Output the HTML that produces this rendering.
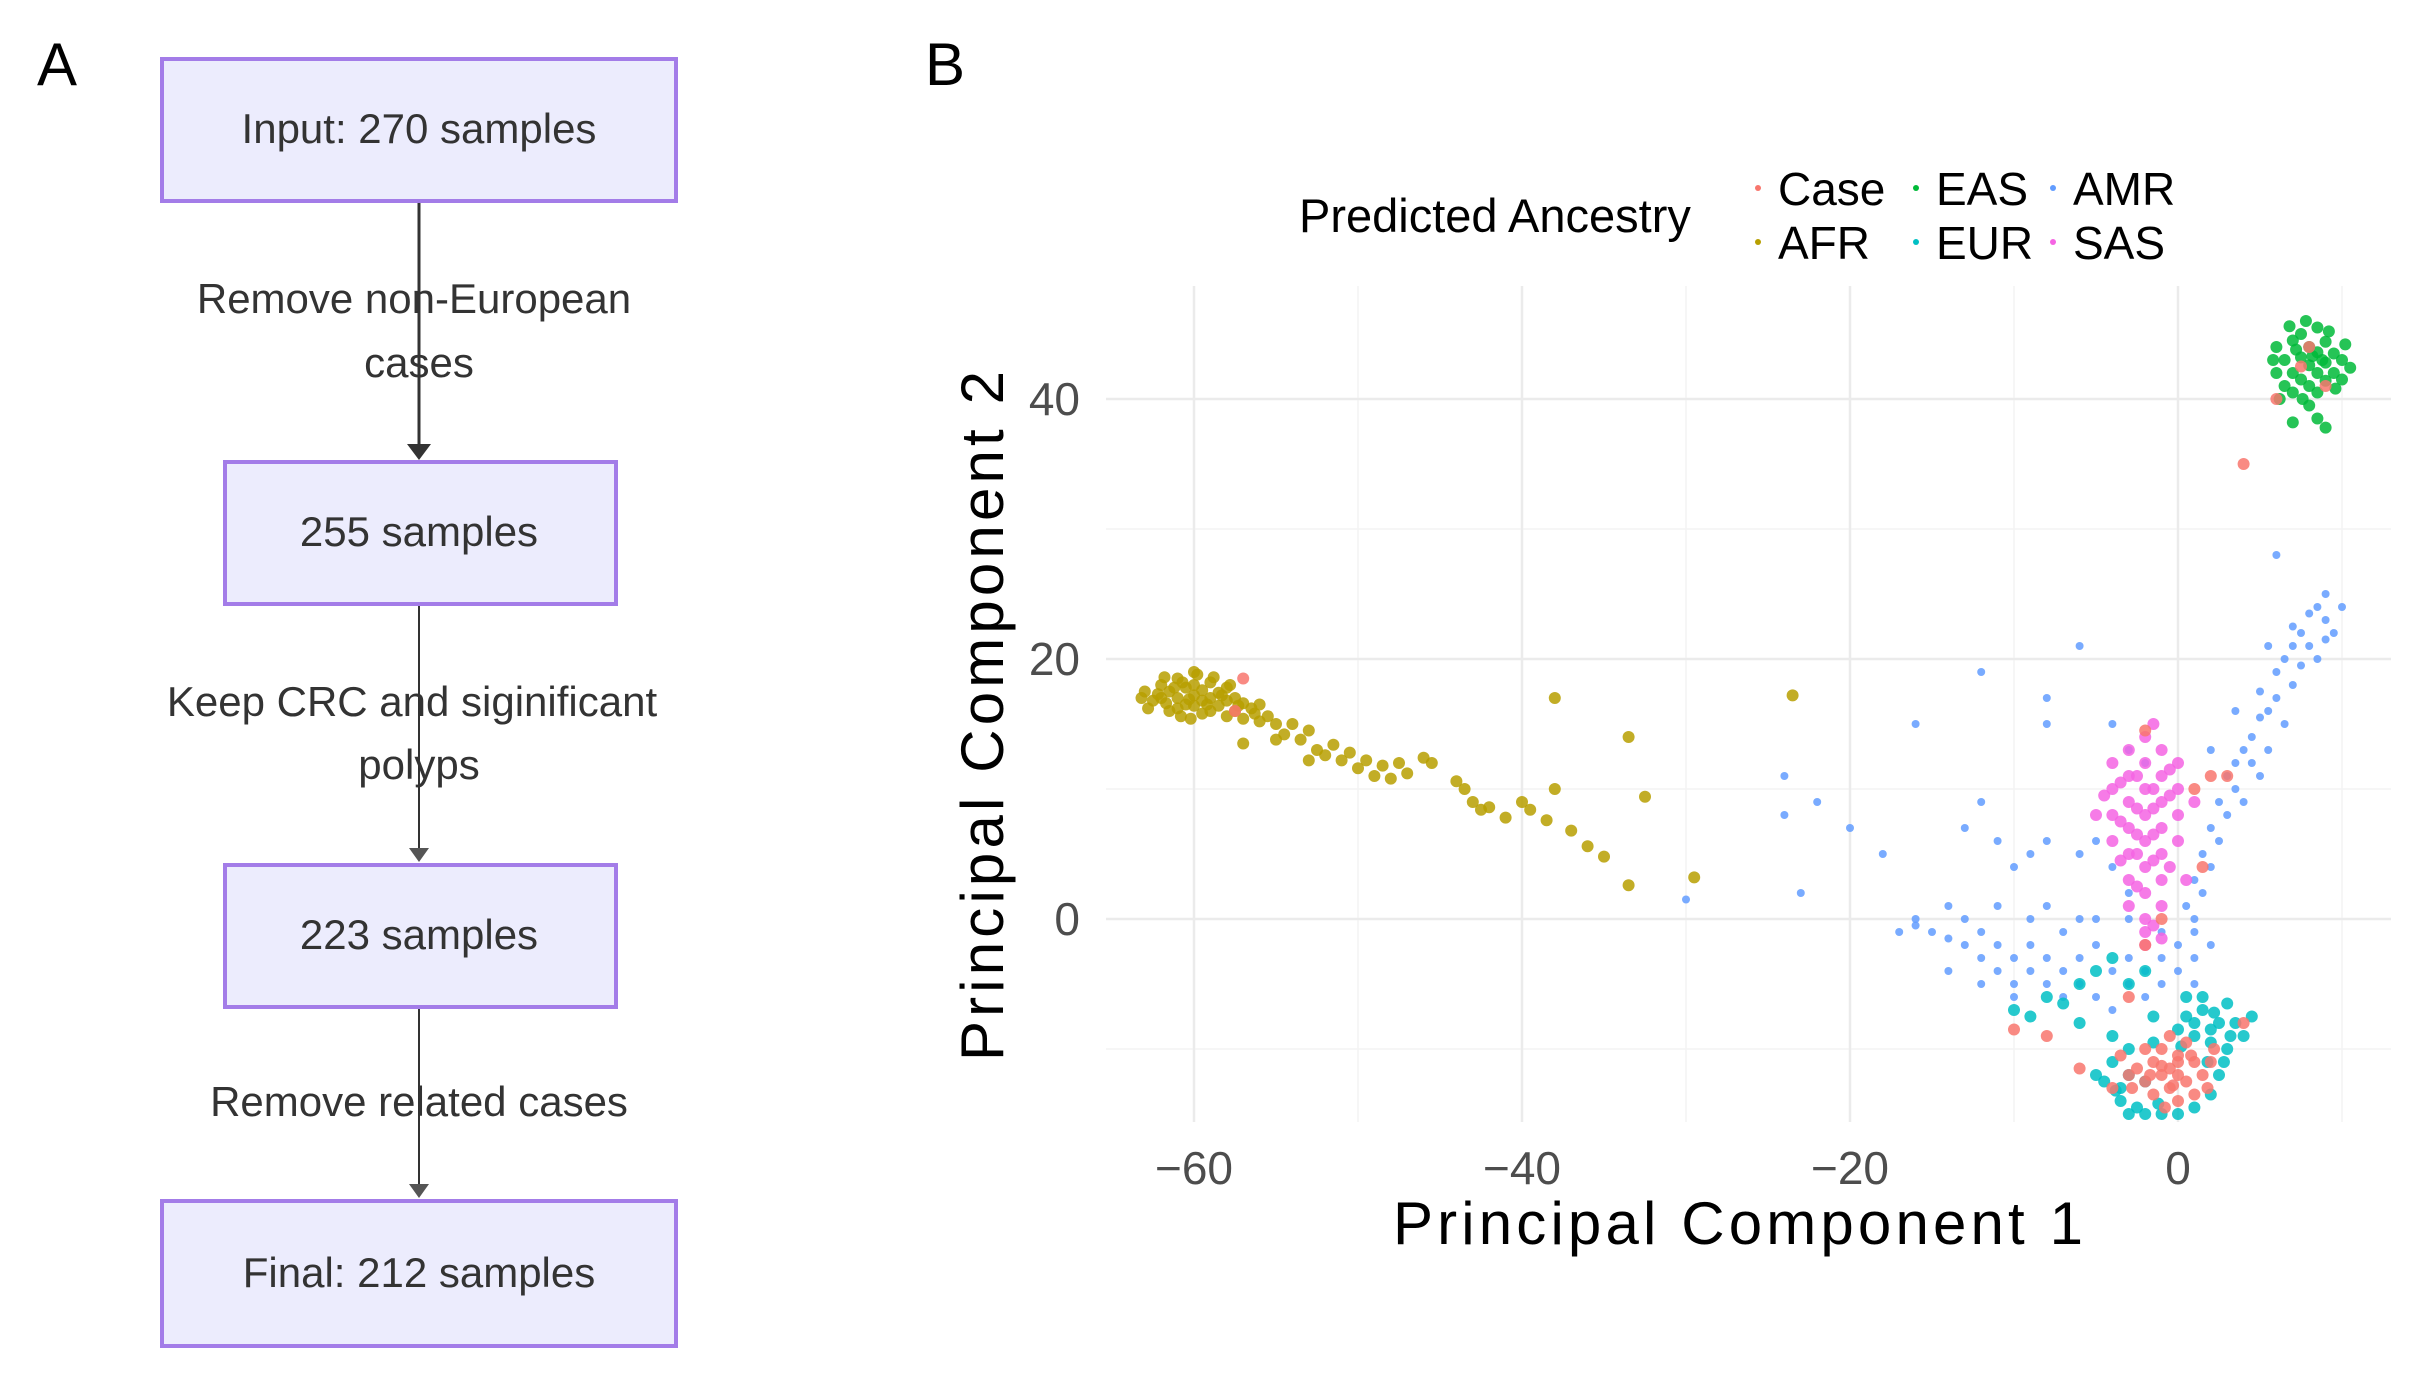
<!DOCTYPE html>
<html><head><meta charset="utf-8"><style>
html,body{margin:0;padding:0;background:#fff;}
svg{display:block;font-family:"Liberation Sans",sans-serif;}
</style></head><body>
<svg id="fig" width="2414" height="1382" viewBox="0 0 2414 1382">
<text x="37" y="85" font-size="60">A</text>
<text x="925" y="85" font-size="60">B</text>
<g id="flow" stroke-linecap="round">
 <line x1="419" y1="201" x2="419" y2="446" stroke="#333" stroke-width="3"/>
 <polygon points="407,444 431,444 419,460" fill="#333"/>
 <line x1="419" y1="604" x2="419" y2="850" stroke="#333" stroke-width="2"/>
 <polygon points="409,848 429,848 419,862" fill="#555"/>
 <line x1="419" y1="1007" x2="419" y2="1186" stroke="#333" stroke-width="2"/>
 <polygon points="409,1184 429,1184 419,1198" fill="#555"/>
 <rect x="162" y="59" width="514" height="142" fill="#ececfd" stroke="#a37ce8" stroke-width="4"/>
 <rect x="225" y="462" width="391" height="142" fill="#ececfd" stroke="#a37ce8" stroke-width="4"/>
 <rect x="225" y="865" width="391" height="142" fill="#ececfd" stroke="#a37ce8" stroke-width="4"/>
 <rect x="162" y="1201" width="514" height="145" fill="#ececfd" stroke="#a37ce8" stroke-width="4"/>
 <g font-size="42" fill="#333" text-anchor="middle">
  <text x="419" y="143">Input: 270 samples</text>
  <text x="419" y="546">255 samples</text>
  <text x="419" y="949">223 samples</text>
  <text x="419" y="1287">Final: 212 samples</text>
  <text x="414" y="313">Remove non-European</text>
  <text x="419" y="377">cases</text>
  <text x="412" y="716">Keep CRC and siginificant</text>
  <text x="419" y="779">polyps</text>
  <text x="419" y="1116">Remove related cases</text>
 </g>
</g>
<g id="grid"></g>
<g id="pts"></g>
<g id="axes"></g>
<text x="1738" y="1244" font-size="60" text-anchor="middle" fill="#000" textLength="690">Principal Component 1</text>
<text transform="translate(1003,716) rotate(-90)" font-size="60" text-anchor="middle" fill="#000" textLength="690">Principal Component 2</text>
<g id="legend">
 <text x="1299" y="232" font-size="47" fill="#000">Predicted Ancestry</text>
</g>
</svg>
<script>
const xTicks=[-60,-40,-20,0];
const yTicks=[0,20,40];
const xMinor=[-50,-30,-10,10];
const yMinor=[-10,10,30];
const groups=["AFR","AMR","EAS","EUR","SAS","Case"];
const colors={Case:"#f8766d",AFR:"#b79f00",EAS:"#00ba38",EUR:"#00bfc4",AMR:"#619cff",SAS:"#f564e3"};
const legendOrder=["Case","AFR","EAS","EUR","AMR","SAS"];
const AFR=[-63,17.5,-62.5,16.8,-62,18,-62,17,-61.5,16,-61.5,17.5,-61,18.5,-61,17,-61,16.2,-60.5,17.8,-60.5,16.5,-60,19,-60,18,-60,17.2,-60,16.4,-59.5,17.6,-59.5,16.8,-59.5,15.8,-59,18.2,-59,17,-59,16,-58.5,17.4,-58.5,16.4,-58,17.8,-58,16.8,-58,15.6,-57.5,17,-57.5,16,-57,16.6,-57,15.4,-56.5,16.2,-56,15.2,-56,16.5,-55.5,15.6,-62.8,16.2,-61.8,18.6,-60.8,15.6,-59.8,18.8,-58.8,18.6,-57.8,18,-63.2,17,-60.2,15.4,-55,15,-54.5,14.2,-54,15,-53.5,13.8,-53,14.5,-52.5,13,-52,12.6,-51.5,13.4,-51,12.2,-50.5,12.8,-50,11.6,-49.5,12.2,-49,11,-48.5,11.8,-48,10.8,-47.5,12,-47,11.2,-46,12.4,-57,13.5,-55,13.8,-53,12.2,-43.5,10,-43,9,-42.5,8.4,-42,8.6,-41,7.8,-40,9,-39.5,8.4,-38.5,7.6,-38,10,-37,6.8,-36,5.6,-35,4.8,-33.5,2.6,-32.5,9.4,-38,17,-33.5,14,-29.5,3.2,-23.5,17.2,-44,10.6,-45.5,12,-62.2,17.3,-61.2,17.8,-60.3,16.9,-59.2,16.5,-58.3,17.2,-57.3,16.4,-56.3,15.8,-61.7,16.6,-60.7,18.2];
const EAS=[6,44,6.5,43,7,44.5,7,42,7.5,45,7.5,43.2,7.5,41.5,8,44,8,42.6,8,41,8.5,45.5,8.5,43.6,8.5,42,8.5,40.5,9,44.4,9,42.8,9,41.4,9.5,43.5,9.5,42,10,43,10,41.5,10.5,42.4,6,42,6.5,41,7,40.5,6.8,45.6,9.2,45.2,5.8,43,10.2,44.2,8,39.5,7,38.2,9,37.8,8.5,38.5,6.2,40,7.8,46,8.2,43.3,7.2,43.8,8.8,43,9.6,40.8,7.6,40];
const EUR=[-3,-12,-3.5,-13,-2.5,-14.5,-4,-11,-2,-15,-1,-15,0,-15,1,-14.5,2,-13.5,2.5,-12,3,-10,2.5,-8,1.5,-7,0.5,-7.5,1,-9,2,-9.5,0,-8.5,3.5,-8,4,-9,-3,-10,-4.5,-12.5,-3.5,-14,-1.5,-9.5,1.5,-6,3,-6.5,2,-8.5,0.5,-6,-1.5,-7.5,-4,-9,-3,-15,-2,-12.5,1.8,-11,2.8,-11,4.5,-7.5,-5,-12,-6,-5,-8,-6,-5,-4,-4,-3,-9,-7.5,-7,-6.5,-10,-7,-6,-8,-2,-4,-3,-5,1,-8,2.2,-7.2,3.2,-9,0.2,-9.8,-3.8,-13.2,-1.2,-14.2];
const SAS=[-2,8,-3,9,-1,9,-2,10,-3,7,-1,7,-2,6,-4,8,-4,10,0,8,0,10,-2,12,-3,11,-1,11,-3,5,-1,5,-2,4,-2,2,-3,3,-1,3,-2,0,-1,1,-3,1,-2,-1,-4,6,0,6,-5,8,-4,12,-2,14,-1,13,0,12,1,9,-3,13,-1.5,15,-3.5,4.5,-0.5,4,-2.5,2.5,-1.5,-0.5,0.5,3,-4.5,9.5,-2.5,8.5,-1.5,8.5,-2.5,6.5,-1.5,6.5,-3.5,7.5,-0.5,9.5,-3.5,10.5,-2.5,11,-0.5,11.5,-1.5,10,-2.5,5,-1.5,4.5,-2,-2,-1,-1.5];
const AMR=[9,25,8.5,24,9,23,8,23.5,7.5,22,8,21,9.5,22,7,21,8.5,20,6.5,20,7.5,19.5,6,19,7,18,6,17,5.5,16,6.5,15,5,15.5,4.5,14,5.5,13,4,13,3.5,12,4.5,12,3,11,5,11,3.5,10,4,9,2.5,9,3,8,2,7,2.5,6,1.5,5,2,4,1,3,1.5,2,0.5,1,1,0,6,28,7,22.5,5,17.5,3.5,16,2,13,5.5,21,10,24,9,21.5,-6,21,-8,15,-8,17,-4,15,-3,13,-2,12,-12,19,-16,15,-18,5,-20,7,-22,9,-24,11,-24,8,-23,2,-30,1.5,-12,9,-13,7,-11,6,-9,5,-8,6,-10,4,-6,5,-5,6,-4,4,-3,2,-16,0,-15,-1,-14,1,-14,-1.5,-13,0,-13,-2,-12,-1,-12,-3,-11,-2,-11,-4,-10,-3,-10,-5,-9,-4,-9,-2,-8,-5,-8,-3,-7,-4,-7,-6,-6,-3,-6,-5,-5,-2,-5,-6,-4,-4,-4,-7,-3,-3,-3,-5,-2,-4,-2,-6,-1,-3,-1,-5,0,-2,0,-4,1,-3,1,-1,-7,-1,-6,0,-9,0,-11,1,-8,1,-16,-0.5,-17,-1,-5,0,-3,0,-1,-1,2,-2,1,-5,-12,-5,-14,-4,-10,-6];
const Case=[-0.5,-11.5,-1,-12,0,-11,-1.5,-11,0.5,-12.5,-0.5,-13,-1,-10,0,-10.5,1,-11,-2,-12.5,-2.5,-11.5,0.5,-9.5,-1.5,-13.5,0,-14,1.5,-12,-0.5,-9,1,-13.5,-2,-10,-3,-12,2,-11,0,-12,-1,-11.3,-0.3,-12.8,-1.7,-12,0.8,-10.5,-0.8,-14.5,-2.8,-13,1.8,-13,-3.5,-10.5,2.2,-10,4,35,6,40,8,44,7.5,42.5,9,41,-57,18.5,-57.5,16,-8,-9,-4,-13,-6,-11.5,-2,-2,-1,0,1.5,4,2,11,3,11,-2,14.5,1,10,-3,-6,4,-8,-10,-8.5];
const data={AFR,AMR,EAS,EUR,SAS,Case};
const NS="http://www.w3.org/2000/svg";
const P={l:1106,r:2391,t:286,b:1122};
function sx(v){return 2178+v*16.4;}
function sy(v){return 919-v*13.0;}
function mk(tag,attrs,parent){const e=document.createElementNS(NS,tag);for(const k in attrs)e.setAttribute(k,attrs[k]);parent.appendChild(e);return e;}
const grid=document.getElementById('grid');
xMinor.forEach(v=>{const l=mk('line',{x1:sx(v),x2:sx(v),y1:P.t,y2:P.b,stroke:'#f4f4f4','stroke-width':1.5},grid);

});
yMinor.forEach(v=>{const l=mk('line',{x1:P.l,x2:P.r,y1:sy(v),y2:sy(v),stroke:'#f4f4f4','stroke-width':1.5},grid);

});
xTicks.forEach(v=>{const l=mk('line',{x1:sx(v),x2:sx(v),y1:P.t,y2:P.b,stroke:'#ebebeb','stroke-width':2.5},grid);

});
yTicks.forEach(v=>{const l=mk('line',{x1:P.l,x2:P.r,y1:sy(v),y2:sy(v),stroke:'#ebebeb','stroke-width':2.5},grid);

});
const axes=document.getElementById('axes');
xTicks.forEach(v=>{const t=mk('text',{x:sx(v),y:1184,'font-size':46,'text-anchor':'middle',fill:'#4d4d4d'},axes);t.textContent=(v<0?'\u2212'+(-v):String(v));

});
yTicks.forEach(v=>{const t=mk('text',{x:1080,y:sy(v)+16,'font-size':46,'text-anchor':'end',fill:'#4d4d4d'},axes);t.textContent=String(v);

});
const pts=document.getElementById('pts');
groups.forEach(g=>{const arr=data[g];const gg=mk('g',{fill:colors[g],'fill-opacity':0.85},pts);


const r=(g==='AMR')?4:6;
for(let i=0;i<arr.length;i+=2){const c=mk('circle',{cx:sx(arr[i]),cy:sy(arr[i+1]),r:r},gg);

}});
const leg=document.getElementById('legend');
const lx=[1758,1758,1916,1916,2053,2053],ly=[189,243,189,243,189,243];
legendOrder.forEach((g,i)=>{const c=mk('circle',{cx:lx[i],cy:ly[i]-1,r:3,fill:colors[g]},leg);


const t=mk('text',{x:lx[i]+20,y:ly[i]+16,'font-size':46,fill:'#000'},leg);t.textContent=g;

});
</script>
</body></html>
